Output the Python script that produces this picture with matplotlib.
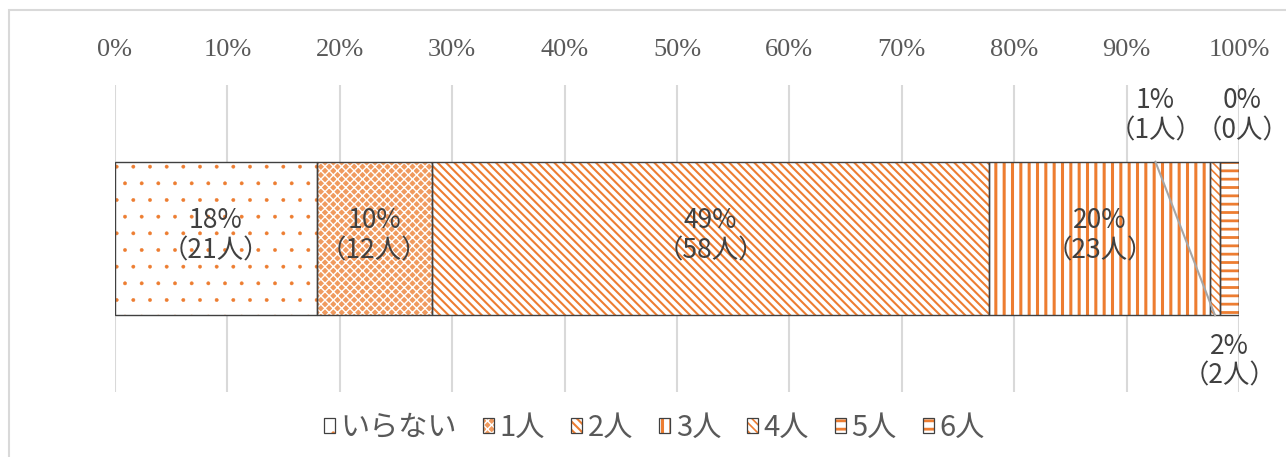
import numpy as np
import matplotlib
matplotlib.use("Agg")
import matplotlib.pyplot as plt
from matplotlib.patches import Patch, Rectangle
from matplotlib.legend_handler import HandlerBase

plt.rcParams['font.family'] = ['Noto Sans CJK JP', 'DejaVu Sans']

# data
categories = ['いらない', '1人', '2人', '3人', '4人', '5人', '6人']
counts = [21, 12, 58, 23, 1, 2, 0]
pct_labels = ['18%', '10%', '49%', '20%', '1%', '2%', '0%']
tick_labels = ['0%', '10%', '20%', '30%', '40%', '50%', '60%', '70%', '80%', '90%', '100%']

orange = '#ED7D31'
hatches = ['.', 'xxxx', '\\\\\\\\', '||', '\\\\\\\\', '--', '--']
faces = ['white', '#F09A5E', 'white', 'white', 'white', 'white', 'white']
hatch_cols = [orange, 'white', orange, orange, orange, orange, orange]
hatch_lws = [0.3, 1.0, 1.5, 2.2, 1.2, 2.0, 2.0]

shares = np.array(counts) / sum(counts)
lefts = np.concatenate([[0], np.cumsum(shares)[:-1]])


def hatched(xy, w, h, i, **kw):
    with plt.rc_context({'hatch.linewidth': hatch_lws[i]}):
        p = Rectangle(xy, w, h, facecolor=faces[i], edgecolor=hatch_cols[i],
                      hatch=hatches[i], linewidth=0, **kw)
    if hasattr(p, 'set_hatch_linewidth'):
        p.set_hatch_linewidth(hatch_lws[i])
    return p


class BoxHandler(HandlerBase):
    def create_artists(self, legend, orig_handle, xdescent, ydescent, width, height, fontsize, trans):
        i = orig_handle.idx
        a = hatched((-xdescent, -ydescent), width, height, i, transform=trans)
        b = Rectangle((-xdescent, -ydescent), width, height, fill=False,
                      edgecolor='#404040', lw=0.9, transform=trans)
        return [a, b]


fig = plt.figure(figsize=(12.86, 4.57), dpi=100)
ax = fig.add_axes([115 / 1286, 65 / 457, 1124 / 1286, 307 / 457])

bar_h = 0.5
for i in range(len(categories)):
    ax.add_patch(hatched((lefts[i], -bar_h / 2), shares[i], bar_h, i, zorder=2))
    ax.barh(0, shares[i], left=lefts[i], height=bar_h, fill=False,
            edgecolor='#404040', linewidth=1.0, zorder=3)

# labels
lab_col = '#404040'
lab_kw = dict(ha='center', va='center', fontsize=19, color=lab_col, linespacing=1.15)
centers = lefts + shares / 2
for i in range(4):
    ax.text(centers[i], 0.01, f'{pct_labels[i]}\n（{counts[i]}人）', zorder=5, **lab_kw)

# small segments labelled outside
ax.text(centers[4] - 0.053, 0.40, f'{pct_labels[4]}\n（{counts[4]}人）', **lab_kw)
ax.plot([centers[4] - 0.053, centers[4]], [bar_h / 2, -bar_h / 2], color='#A6A6A6', lw=1.5, zorder=4)
ax.text(centers[5], -0.40, f'{pct_labels[5]}\n（{counts[5]}人）', **lab_kw)
ax.text(centers[6] + 0.003, 0.40, f'{pct_labels[6]}\n（{counts[6]}人）', **lab_kw)

ax.set_xlim(0, 1)
ax.set_ylim(-0.5, 0.5)
ax.set_xticks(np.linspace(0, 1, len(tick_labels)))
ax.set_xticklabels(tick_labels, family='Liberation Serif', fontsize=19, color='#595959')
ax.xaxis.tick_top()
ax.tick_params(axis='x', length=0, pad=17)
ax.set_yticks([])
ax.grid(axis='x', color='#D9D9D9', lw=1.5, zorder=0)
ax.set_axisbelow(True)
for s in ax.spines.values():
    s.set_visible(False)

handles = []
for i in range(len(categories)):
    h = Patch()
    h.idx = i
    handles.append(h)
fig.legend(handles, categories, loc='center', bbox_to_anchor=(0.509, 0.0635), ncol=7,
           frameon=False, fontsize=21, handlelength=0.36, handleheight=0.45,
           handletextpad=0.2, columnspacing=0.9, labelcolor='#595959',
           handler_map={Patch: BoxHandler()})

fig.patches.append(Rectangle((9 / 1286, -0.1), 1.2, 1 - 10 / 457 + 0.1, transform=fig.transFigure,
                             fill=False, edgecolor='#D9D9D9', lw=1.5))

fig.savefig('out.png', dpi=100)
